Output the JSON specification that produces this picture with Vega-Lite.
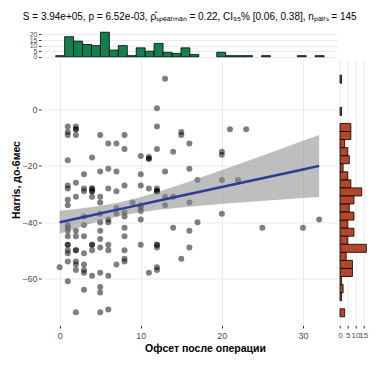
{
  "$schema": "https://vega.github.io/schema/vega-lite/v6.json",
  "padding": {"left": 11, "top": 12, "right": 5, "bottom": 5},
  "title": {"text": "S = 3.94e+05, p = 6.52e-03, ρ̂ₛₚₑₐᵣₘₐₙ = 0.22, CI₉₅% [0.06, 0.38], nₚₐᵢᵣₛ = 145", "fontSize": 10, "fontWeight": "normal", "font": "Liberation Sans", "color": "#000", "anchor": "middle", "offset": 8},
  "config": {
    "font": "Liberation Sans",
    "view": {"stroke": null},
    "axis": {"domain": false, "labelFont": "Liberation Sans", "labelFontSize": 9, "labelColor": "#4d4d4d", "labelOverlap": false, "tickColor": "#333", "tickSize": 2.5, "labelPadding": 1.5, "titleFont": "Liberation Sans", "titleFontSize": 10.5, "titleFontWeight": "bold", "titleColor": "#000", "gridColor": "#dedede", "gridWidth": 0.6}
  },
  "datasets": {
    "pts": [
      {"offset":0,"harris":-56},
      {"offset":1,"harris":-6},{"offset":1,"harris":-8},{"offset":1,"harris":-9},{"offset":1,"harris":-18},{"offset":1,"harris":-27},{"offset":1,"harris":-28},{"offset":1,"harris":-32},{"offset":1,"harris":-34},{"offset":1,"harris":-41},{"offset":1,"harris":-42},{"offset":1,"harris":-43},{"offset":1,"harris":-45},{"offset":1,"harris":-48},{"offset":1,"harris":-48},{"offset":1,"harris":-50},{"offset":1,"harris":-51},{"offset":1,"harris":-54},{"offset":1,"harris":-61},
      {"offset":2,"harris":-6},{"offset":2,"harris":-7},{"offset":2,"harris":-7},{"offset":2,"harris":-9},{"offset":2,"harris":-26},{"offset":2,"harris":-31},{"offset":2,"harris":-43},{"offset":2,"harris":-45},{"offset":2,"harris":-50},{"offset":2,"harris":-50},{"offset":2,"harris":-54},{"offset":2,"harris":-55},{"offset":2,"harris":-57},{"offset":2,"harris":-72},
      {"offset":3,"harris":-23},{"offset":3,"harris":-28},{"offset":3,"harris":-29},{"offset":3,"harris":-38},{"offset":3,"harris":-41},{"offset":3,"harris":-45},{"offset":3,"harris":-51},{"offset":3,"harris":-55},{"offset":3,"harris":-57},{"offset":3,"harris":-58},{"offset":3,"harris":-64},
      {"offset":4,"harris":-17},{"offset":4,"harris":-28},{"offset":4,"harris":-28},{"offset":4,"harris":-29},{"offset":4,"harris":-29},{"offset":4,"harris":-31},{"offset":4,"harris":-48},{"offset":4,"harris":-48},{"offset":4,"harris":-50},{"offset":4,"harris":-59},
      {"offset":5,"harris":-9},{"offset":5,"harris":-22},{"offset":5,"harris":-31},{"offset":5,"harris":-33},{"offset":5,"harris":-37},{"offset":5,"harris":-40},{"offset":5,"harris":-43},{"offset":5,"harris":-46},{"offset":5,"harris":-49},{"offset":5,"harris":-58},{"offset":5,"harris":-63},{"offset":5,"harris":-65},{"offset":5,"harris":-72},
      {"offset":6,"harris":-12},{"offset":6,"harris":-21},{"offset":6,"harris":-28},{"offset":6,"harris":-39},{"offset":6,"harris":-40},{"offset":6,"harris":-48},{"offset":6,"harris":-50},{"offset":6,"harris":-59},{"offset":6,"harris":-71},
      {"offset":7,"harris":-12},{"offset":7,"harris":-22},{"offset":7,"harris":-29},{"offset":7,"harris":-35},{"offset":7,"harris":-37},{"offset":7,"harris":-55},
      {"offset":8,"harris":-9},{"offset":8,"harris":-14},{"offset":8,"harris":-27},{"offset":8,"harris":-36.5},{"offset":8,"harris":-38},{"offset":8,"harris":-42},{"offset":8,"harris":-45},{"offset":8,"harris":-50},{"offset":8,"harris":-53},{"offset":8,"harris":-54},
      {"offset":9,"harris":-33},
      {"offset":10,"harris":-16.5},{"offset":10,"harris":-23},{"offset":10,"harris":-27},{"offset":10,"harris":-34},{"offset":10,"harris":-35},{"offset":10,"harris":-36},{"offset":10,"harris":-39},{"offset":10,"harris":-48},
      {"offset":11,"harris":-16.8},{"offset":11,"harris":-17.5},{"offset":11,"harris":-17.5},{"offset":11,"harris":-28},{"offset":11,"harris":-58},
      {"offset":12,"harris":0.5},{"offset":12,"harris":-6},{"offset":12,"harris":-14},{"offset":12,"harris":-28},{"offset":12,"harris":-29},{"offset":12,"harris":-29},{"offset":12,"harris":-29},{"offset":12,"harris":-48},{"offset":12,"harris":-48},{"offset":12,"harris":-49},{"offset":12,"harris":-56},{"offset":12,"harris":-57},
      {"offset":13,"harris":11},{"offset":13,"harris":-22},{"offset":13,"harris":-31},{"offset":13,"harris":-34},
      {"offset":14,"harris":-15},{"offset":14,"harris":-31},{"offset":14,"harris":-42},
      {"offset":15,"harris":-8},{"offset":15,"harris":-9},{"offset":15,"harris":-53},
      {"offset":16,"harris":-12},{"offset":16,"harris":-21},{"offset":16,"harris":-33},{"offset":16,"harris":-43},{"offset":16,"harris":-49},
      {"offset":17,"harris":-25},{"offset":17,"harris":-40},
      {"offset":20,"harris":-15},{"offset":20,"harris":-16},{"offset":20,"harris":-25},{"offset":20,"harris":-37},
      {"offset":21,"harris":-7},{"offset":22,"harris":-25},{"offset":23,"harris":-7},{"offset":25,"harris":-42},{"offset":30,"harris":-42},{"offset":32,"harris":-39}
    ],
    "fit": [
      {"offset":0,"harris":-40,"lo":-44.11,"hi":-35.89},
      {"offset":2,"harris":-38.75,"lo":-42.2,"hi":-35.3},
      {"offset":4,"harris":-37.5,"lo":-40.41,"hi":-34.59},
      {"offset":6,"harris":-36.25,"lo":-38.81,"hi":-33.69},
      {"offset":8,"harris":-35,"lo":-37.48,"hi":-32.52},
      {"offset":10,"harris":-33.75,"lo":-36.45,"hi":-31.05},
      {"offset":12,"harris":-32.5,"lo":-35.66,"hi":-29.34},
      {"offset":15,"harris":-30.63,"lo":-34.74,"hi":-26.52},
      {"offset":18,"harris":-28.75,"lo":-33.97,"hi":-23.53},
      {"offset":21,"harris":-26.88,"lo":-33.29,"hi":-20.47},
      {"offset":24,"harris":-25,"lo":-32.64,"hi":-17.36},
      {"offset":27,"harris":-23.13,"lo":-32.02,"hi":-14.24},
      {"offset":30,"harris":-21.25,"lo":-31.41,"hi":-11.09},
      {"offset":32,"harris":-20,"lo":-31.01,"hi":-8.99}
    ]
  },
  "spacing": 1.5,
  "bounds": "flush",
  "vconcat": [
    {
      "width": 296,
      "height": 27,
      "resolve": {"axis": {"y": "independent"}},
      "layer": [
        {
          "data": {"name": "pts"},
          "mark": {"type": "bar", "color": "#13804F", "stroke": "#000", "strokeWidth": 0.8, "binSpacing": 0},
          "encoding": {
            "x": {"field": "offset", "type": "quantitative", "bin": {"step": 1.1034, "extent": [-0.5507, 32.56], "nice": false}, "title": null, "scale": {"domain": [-2.3, 34.2], "nice": false, "zero": false}, "axis": {"labels": false, "ticks": false, "values": [0, 5, 10, 15, 20, 25, 30]}},
            "y": {"aggregate": "count", "type": "quantitative", "title": null, "scale": {"domain": [-1.1, 23.1], "nice": false, "zero": false}, "axis": {"values": [0, 5, 10, 15, 20], "labelFontSize": 7}},
            "y2": {"datum": 0}
          }
        },
        {
          "mark": {"type": "rule", "color": "#000", "strokeWidth": 0.8},
          "encoding": {
            "x": {"datum": -0.5507},
            "x2": {"datum": 32.56},
            "y": {"datum": 0, "type": "quantitative", "title": null, "axis": {"orient": "right", "values": [2.5, 7.5, 12.5, 17.5, 22.5], "labels": false, "ticks": false, "gridColor": "#ebebeb"}}
          }
        }
      ]
    },
    {
      "spacing": 1.7,
      "bounds": "flush",
      "resolve": {"scale": {"x": "independent", "y": "independent"}, "axis": {"x": "independent", "y": "independent"}},
      "hconcat": [
        {
          "width": 296,
          "height": 266,
          "resolve": {"axis": {"x": "independent", "y": "independent"}},
          "layer": [
            {
              "data": {"name": "pts"},
              "mark": {"type": "circle", "size": 36, "color": "#000", "opacity": 0.5, "strokeWidth": 0},
              "encoding": {
                "x": {"field": "offset", "type": "quantitative", "title": "Офсет после операции", "scale": {"domain": [-2.3, 34.2], "nice": false, "zero": false}, "axis": {"values": [0, 10, 20, 30], "titleX": 164, "titlePadding": 3, "labelPadding": 3}},
                "y": {"field": "harris", "type": "quantitative", "title": "Harris, до-6мес", "scale": {"domain": [-76.7, 17.8], "nice": false, "zero": false}, "axis": {"values": [-60, -40, -20, 0], "titlePadding": 0, "titleY": 120}}
              }
            },
            {
              "data": {"name": "fit"},
              "mark": {"type": "area", "color": "#888", "opacity": 0.55},
              "encoding": {
                "x": {"field": "offset", "type": "quantitative", "title": null, "axis": {"orient": "top", "values": [5, 15, 25], "labels": false, "ticks": false, "gridColor": "#ebebeb"}},
                "y": {"field": "lo", "type": "quantitative", "title": null, "axis": {"orient": "right", "values": [-70, -50, -30, -10, 10], "labels": false, "ticks": false, "gridColor": "#ebebeb"}},
                "y2": {"field": "hi"}
              }
            },
            {
              "data": {"name": "fit"},
              "mark": {"type": "line", "color": "#2E3C98", "strokeWidth": 2.5},
              "encoding": {
                "x": {"field": "offset", "type": "quantitative", "axis": null},
                "y": {"field": "harris", "type": "quantitative", "axis": null}
              }
            }
          ]
        },
        {
          "width": 29,
          "height": 266,
          "resolve": {"axis": {"x": "independent"}},
          "layer": [
            {
              "data": {"name": "pts"},
              "mark": {"type": "bar", "color": "#B4472A", "stroke": "#000", "strokeWidth": 0.8, "binSpacing": 0},
              "encoding": {
                "y": {"field": "harris", "type": "quantitative", "bin": {"step": 2.862, "extent": [-73.43, 12.43], "nice": false}, "title": null, "scale": {"domain": [-76.7, 17.8], "nice": false, "zero": false}, "axis": {"labels": false, "ticks": false, "values": [-70, -60, -50, -40, -30, -20, -10, 0, 10]}},
                "x": {"aggregate": "count", "type": "quantitative", "title": null, "scale": {"domain": [-0.85, 17.85], "nice": false, "zero": false}, "axis": {"values": [0, 5, 10, 15], "labelFontSize": 8, "labelPadding": 3}},
                "x2": {"datum": 0}
              }
            },
            {
              "mark": {"type": "rule", "color": "#000", "strokeWidth": 0.8},
              "encoding": {
                "x": {"datum": 0, "type": "quantitative", "title": null, "axis": {"orient": "top", "values": [2.5, 7.5, 12.5, 17.5], "labels": false, "ticks": false, "gridColor": "#ebebeb"}},
                "y": {"datum": -73.43},
                "y2": {"datum": 12.43}
              }
            }
          ]
        }
      ]
    }
  ]
}
